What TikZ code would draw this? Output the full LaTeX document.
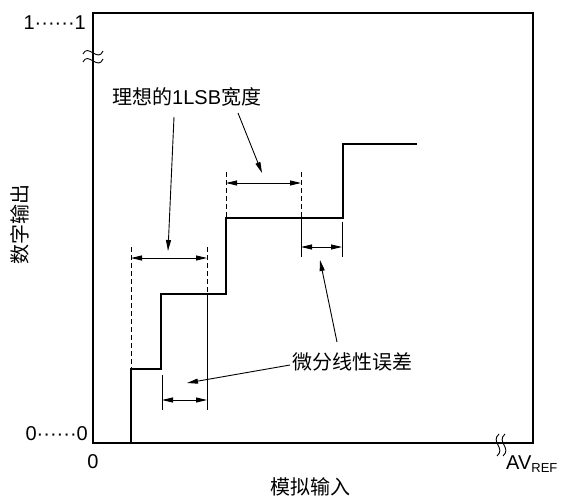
\documentclass[tikz,border=0pt]{standalone}
\usepackage{fontspec}
\setmainfont{Liberation Sans}
\newfontfamily\cjk{Noto Sans CJK SC}
\usetikzlibrary{arrows.meta}
\begin{document}
\begin{tikzpicture}[x=1pt,y=-1pt,
  frame/.style={line width=2.6pt},
  stair/.style={line width=2.6pt, line join=miter},
  thinline/.style={line width=0.9pt},
  dsh/.style={line width=0.9pt, dash pattern=on 5pt off 3pt},
  dimarrow/.style={line width=0.9pt, {Triangle[length=11pt,width=5pt]}-{Triangle[length=11pt,width=5pt]}},
  lead/.style={line width=0.9pt, -{Triangle[length=11pt,width=5pt]}},
  lbl/.style={font=\fontsize{20}{22}\selectfont, inner sep=0pt},
]
\useasboundingbox (0,0) rectangle (562,497);
% frame
\draw[frame] (93,13) rectangle (533,443);
% break marks
\draw[thinline] (83,54) .. controls (88,43) and (98,63) .. (103,51);
\draw[thinline] (83,62) .. controls (88,51) and (98,71) .. (103,59);
\draw[thinline] (499,434) .. controls (490,442) and (506,448) .. (497,456);
\draw[thinline] (505,434) .. controls (496,442) and (512,448) .. (503,456);
% staircase
\draw[stair] (131,443) |- (161,369) |- (226,294) |- (343,218) |- (417,144);
% dashed and extension lines
\draw[dsh] (131,247) -- (131,369);
\draw[dsh] (207,247) -- (207,294);
\draw[thinline] (207,294) -- (207,410);
\draw[dsh] (226,172) -- (226,218);
\draw[dsh] (301,172) -- (301,218);
\draw[thinline] (301,218) -- (301,257);
\draw[thinline] (342,222) -- (342,257);
\draw[thinline] (162,375) -- (162,410);
% dimension arrows
\coordinate (d1a) at (131,258); \coordinate (d1b) at (207,258);
\coordinate (d2a) at (226,183); \coordinate (d2b) at (301,183);
\coordinate (d3a) at (301,247); \coordinate (d3b) at (342,247);
\coordinate (d4a) at (162,400); \coordinate (d4b) at (207,400);
\draw[dimarrow] (d1a) -- (d1b);
\draw[dimarrow] (d2a) -- (d2b);
\draw[dimarrow] (d3a) -- (d3b);
\draw[dimarrow] (d4a) -- (d4b);
% labels
\node[lbl, anchor=west] (ideal) at (112,97) {{\cjk 理想的}1LSB{\cjk 宽度}};
\node[lbl, anchor=west] (dnl) at (292,362) {\cjk 微分线性误差};
\node[lbl, anchor=east] (one) at (86,23) {1······1};
\node[lbl, anchor=east] (zero) at (88,434) {0······0};
\node[lbl] (origin) at (93,462) {0};
\node[lbl, anchor=base west] (avref) at (506,469) {AV\raisebox{-3pt}{\fontsize{13}{14}\selectfont REF}};
\node[lbl, rotate=90] (yl) at (20,224) {\cjk 数字输出};
\node[lbl] (xl) at (310,487) {\cjk 模拟输入};
% leaders
\coordinate (l1s) at (174,117); \coordinate (l1e) at (168,251);
\coordinate (l2s) at (238,113); \coordinate (l2e) at (262,173);
\coordinate (l3s) at (337,342); \coordinate (l3e) at (320,260);
\coordinate (l4s) at (290,365); \coordinate (l4e) at (187,383);
\draw[lead] (l1s) -- (l1e);
\draw[lead] (l2s) -- (l2e);
\draw[lead] (l3s) -- (l3e);
\draw[lead] (l4s) -- (l4e);
\end{tikzpicture}
\end{document}
